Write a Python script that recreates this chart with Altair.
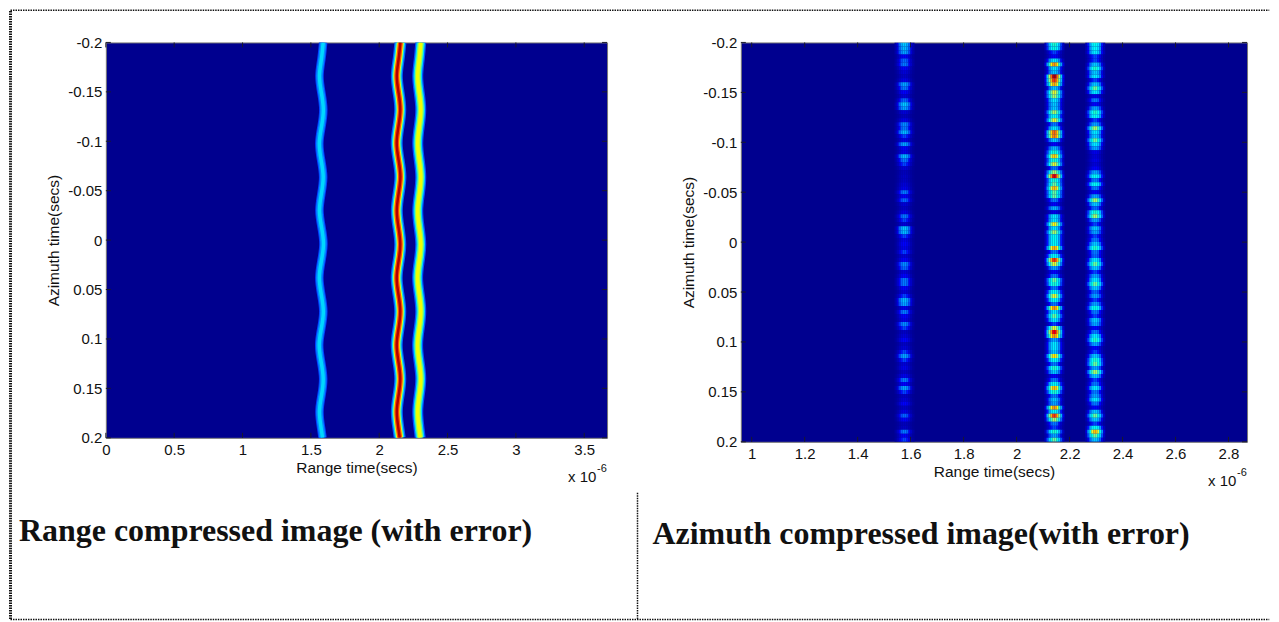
import altair as alt
import pandas as pd

# ---------- left panel: range compressed lines (values in 1e-6 s / s) ----------
azimuth_samples = [-0.2, -0.183, -0.166, -0.149, -0.132, -0.115, -0.098, -0.081, -0.064, -0.047, -0.03, -0.013,
                   0.004, 0.021, 0.038, 0.055, 0.072, 0.089, 0.106, 0.123, 0.14, 0.157, 0.174, 0.191, 0.2]
line_1 = [1.590, 1.577, 1.563, 1.577, 1.591, 1.578, 1.562, 1.575, 1.590, 1.577, 1.563, 1.578, 1.592,
          1.577, 1.562, 1.576, 1.591, 1.577, 1.561, 1.575, 1.590, 1.578, 1.563, 1.576, 1.585]
line_2 = [2.155, 2.142, 2.129, 2.142, 2.154, 2.141, 2.128, 2.142, 2.155, 2.142, 2.129, 2.141, 2.154,
          2.142, 2.128, 2.141, 2.154, 2.142, 2.128, 2.141, 2.154, 2.142, 2.129, 2.141, 2.150]
line_3 = [2.304, 2.293, 2.282, 2.293, 2.304, 2.293, 2.282, 2.293, 2.304, 2.294, 2.282, 2.292, 2.304,
          2.293, 2.281, 2.293, 2.304, 2.293, 2.281, 2.292, 2.304, 2.293, 2.282, 2.292, 2.300]

# ---------- right panel: per-row peak intensity of each track (100 rows) ----------
track_1_peak = [.30,.28,.25,.12,.18,.20,.12,.08,.06,.10,.25,.20,.12,.08,.18,.30,.25,.08,.05,.10,.22,.20,.28,.15,.10,.25,.12,.10,.28,.20,
                .15,.08,.05,.06,.06,.08,.10,.20,.12,.18,.08,.06,.10,.20,.15,.08,.30,.28,.15,.10,.12,.10,.15,.08,.12,.22,.18,.08,.12,.20,
                .20,.12,.08,.15,.28,.25,.10,.20,.12,.10,.22,.15,.06,.08,.12,.06,.08,.15,.25,.15,.08,.10,.06,.10,.20,.12,.25,.15,.06,.08,
                .12,.06,.10,.18,.12,.05,.06,.20,.12,.15]
track_2_peak = [.45,.42,.15,.12,.35,.75,.35,.30,.95,.85,.72,.30,.60,.55,.35,.30,.30,.55,.40,.60,.20,.35,.80,.78,.30,.12,.28,.45,.68,.45,
                .60,.20,.55,.90,.45,.50,.70,.50,.50,.20,.12,.27,.10,.35,.35,.62,.35,.55,.40,.40,.40,.72,.20,.40,.85,.60,.25,.12,.20,.50,
                .45,.20,.40,.60,.40,.20,.75,.35,.50,.35,.15,.60,.88,.75,.25,.35,.35,.30,.65,.40,.20,.45,.30,.12,.20,.40,.70,.45,.20,.30,
                .25,.75,.40,.85,.55,.20,.15,.45,.25,.50]
track_3_peak = [.40,.38,.35,.15,.15,.30,.45,.30,.35,.15,.30,.50,.35,.10,.20,.12,.25,.45,.40,.15,.25,.55,.35,.30,.50,.35,.25,.10,.08,.10,
                .08,.12,.25,.40,.20,.40,.20,.12,.25,.55,.30,.18,.45,.55,.25,.15,.30,.25,.15,.20,.30,.45,.20,.18,.35,.50,.30,.15,.25,.35,
                .50,.30,.18,.25,.15,.25,.42,.20,.15,.30,.25,.12,.20,.35,.45,.25,.12,.15,.30,.45,.50,.25,.55,.30,.15,.20,.35,.20,.25,.35,
                .20,.12,.30,.50,.30,.15,.40,.70,.50,.30]
track_centres = [1.577, 2.143, 2.297]
track_peaks = [track_1_peak, track_2_peak, track_3_peak]
cross_offset = [-0.0339, -0.0264, -0.0188, -0.0113, -0.0038, 0.0038, 0.0113, 0.0188, 0.0264, 0.0339]
cross_profile = [0.12, 0.32, 0.6, 0.85, 1.0, 1.0, 0.85, 0.6, 0.32, 0.12]

# ---------- ticks and text ----------
az_ticks = [-0.2, -0.15, -0.1, -0.05, 0, 0.05, 0.1, 0.15, 0.2]
left_x_ticks = [0, 0.5, 1, 1.5, 2, 2.5, 3, 3.5]
right_x_ticks = [1, 1.2, 1.4, 1.6, 1.8, 2, 2.2, 2.4, 2.6, 2.8]
caption_left = "Range compressed image (with error)"
caption_right = "Azimuth compressed image(with error)"
x_title = "Range time(secs)"
y_title = "Azimuth time(secs)"

BG = "#00008F"
SANS = "Liberation Sans"
SERIF = "Liberation Serif"
LW, LH, RW, RH = 502, 396, 507, 400


def x_axis(values, padding):
    return alt.Axis(values=values, title=x_title, labelExpr="'' + datum.value", ticks=False, domain=False,
                    grid=False, labelPadding=5, titlePadding=padding, labelFontSize=15, titleFontSize=15.5,
                    labelFont=SANS, titleFont=SANS, titleFontWeight="normal", labelColor="#111", titleColor="#111",
                    labelFlush=False, labelOverlap=False)


def y_axis(padding):
    return alt.Axis(values=az_ticks, title=y_title, labelExpr="'' + datum.value", ticks=False, domain=False,
                    grid=False, labelPadding=4, titlePadding=padding, labelFontSize=15, titleFontSize=15.5,
                    labelFont=SANS, titleFont=SANS, titleFontWeight="normal", labelColor="#111", titleColor="#111",
                    labelOverlap=False)


def inner_ticks(xt, h, w):
    xd = pd.DataFrame({"v": xt})
    yd = pd.DataFrame({"v": az_ticks})
    tick = dict(color="#1a1a2a", strokeWidth=1)
    return [
        alt.Chart(xd).mark_rule(**tick).encode(x=alt.X("v:Q"), y=alt.value(0), y2=alt.value(5)),
        alt.Chart(xd).mark_rule(**tick).encode(x=alt.X("v:Q"), y=alt.value(h - 5), y2=alt.value(h)),
        alt.Chart(yd).mark_rule(**tick).encode(y=alt.Y("v:Q"), x=alt.value(0), x2=alt.value(5)),
        alt.Chart(yd).mark_rule(**tick).encode(y=alt.Y("v:Q"), x=alt.value(w - 5), x2=alt.value(w)),
    ]


def label(text, x, y, font=SANS, size=15, weight="normal"):
    return alt.Chart(pd.DataFrame({"t": [text]})).mark_text(
        font=font, fontSize=size, fontWeight=weight, align="left", baseline="alphabetic", color="#111"
    ).encode(x=alt.value(x), y=alt.value(y), text="t:N")


def frame(x, y, x2, y2, width=1.5):
    return alt.Chart(pd.DataFrame({"a": [0]})).mark_rule(
        color="#111", strokeWidth=width, strokeDash=[1.5, 1]
    ).encode(x=alt.value(x), x2=alt.value(x2), y=alt.value(y), y2=alt.value(y2))


# ---------- left panel ----------
lines = pd.DataFrame({"y": azimuth_samples, "l1": line_1, "l2": line_2, "l3": line_3, "i": range(len(line_1))})
tiers = [
    ("l1", 8.5, "#0040ff"), ("l1", 6.5, "#0090ff"), ("l1", 3.5, "#00d8ff"),
    ("l2", 12, "#0060ff"), ("l2", 9.5, "#10e0f0"), ("l2", 7, "#e8ff10"), ("l2", 5, "#ff5000"), ("l2", 2.5, "#b00000"),
    ("l3", 11, "#0050ff"), ("l3", 8.5, "#00d8ff"), ("l3", 6, "#90ff60"), ("l3", 3.5, "#f0ff00"),
]
lx = alt.Scale(domain=[0, 3.667], nice=False, zero=False)
ly = alt.Scale(domain=[-0.2, 0.2], reverse=True, nice=False, zero=False)
left_layers = [
    alt.Chart(lines).mark_line(strokeWidth=w, color=c, interpolate="natural", clip=True, strokeCap="butt").encode(
        x=alt.X(f"{f}:Q", scale=lx, axis=x_axis(left_x_ticks, 3)),
        y=alt.Y("y:Q", scale=ly, axis=y_axis(6)),
        order="i:Q",
    )
    for f, w, c in tiers
]
left = alt.layer(
    *left_layers,
    *inner_ticks(left_x_ticks, LH, LW),
    label("x 10", 463, 44 + LH, size=15),
    label("-6", 492, 34 + LH, size=11),
    label(caption_left, -87, 499, font=SERIF, size=32, weight="bold"),
    frame(-95.5, -32.25, 1165.25, -32.25),
    frame(-95.5, -31.5, -95.5, 578, 3),
    frame(-95.5, 578, 1165.25, 578),
    frame(532.5, 451, 532.5, 578),
).properties(width=LW, height=LH)

# ---------- right panel ----------
rows = []
for centre, peaks in zip(track_centres, track_peaks):
    for r, peak in enumerate(peaks):
        for off, prof in zip(cross_offset, cross_profile):
            rows.append({
                "x": centre + off - 0.0038, "x2": centre + off + 0.0038,
                "y": -0.2 + r * 0.004, "y2": -0.2 + (r + 1) * 0.004, "v": peak * prof,
            })
cells = pd.DataFrame(rows)
rx = alt.Scale(domain=[0.959, 2.87], nice=False, zero=False)
jet = alt.Scale(domain=[0, 0.125, 0.375, 0.625, 0.875, 1],
                range=["#00008F", "#0000FF", "#00FFFF", "#FFFF00", "#FF0000", "#800000"], clamp=True)
heat = alt.Chart(cells).mark_rect(strokeWidth=0, clip=True).encode(
    x=alt.X("x:Q", scale=rx, axis=x_axis(right_x_ticks, 3)),
    x2="x2:Q",
    y=alt.Y("y:Q", scale=ly, axis=y_axis(6)),
    y2="y2:Q",
    color=alt.Color("v:Q", scale=jet, legend=None),
)
right = alt.layer(
    heat,
    *inner_ticks(right_x_ticks, RH, RW),
    label("x 10", 468, 44 + RH, size=15),
    label("-6", 497, 34 + RH, size=11),
    label(caption_right, -88.5, 502, font=SERIF, size=32, weight="bold"),
).properties(width=RW, height=RH)

chart = alt.hconcat(left, right, spacing=134, bounds="flush").properties(
    padding=0, background="white"
).configure_view(fill=BG, stroke="#777777", strokeWidth=1)

chart.save("out.html", embed_options={"renderer": "svg", "actions": False})
